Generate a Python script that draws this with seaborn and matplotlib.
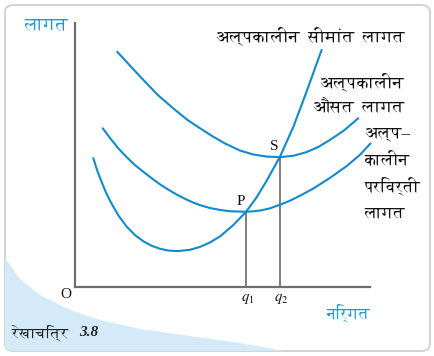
import matplotlib
matplotlib.use("Agg")
import matplotlib.pyplot as plt
import seaborn as sns
import numpy as np
import pandas as pd
from matplotlib import font_manager as fm
from matplotlib.ft2font import FT2Font
from matplotlib.patches import FancyBboxPatch, Polygon

# ---------------- data ----------------
mc_q = [0.62, 0.76, 0.91, 1.05, 1.19, 1.47, 1.75, 2.03, 2.32, 2.60, 2.88, 3.16, 3.49,
        3.90, 4.24, 4.58, 4.92, 5.36, 5.80, 6.14, 6.50, 6.95, 7.40, 7.85, 8.36]
mc_c = [4.88, 4.39, 3.96, 3.58, 3.26, 2.71, 2.29, 1.97, 1.73, 1.56, 1.45, 1.38, 1.36,
        1.41, 1.52, 1.69, 1.92, 2.34, 2.85, 3.37, 4.03, 4.94, 6.06, 7.40, 8.98]

avc_q = [0.94, 1.19, 1.47, 1.75, 2.03, 2.32, 2.60, 2.88, 3.16, 3.45, 3.73, 3.98, 4.24,
         4.58, 4.92, 5.25, 5.53, 5.80, 6.07, 6.34, 6.61, 6.98, 7.29, 7.63, 8.08, 8.64,
         9.21, 9.66, 10.02]
avc_c = [6.01, 5.64, 5.25, 4.92, 4.62, 4.36, 4.12, 3.89, 3.69, 3.50, 3.34, 3.21, 3.10,
         2.99, 2.92, 2.87, 2.86, 2.85, 2.87, 2.91, 2.98, 3.13, 3.27, 3.46, 3.73, 4.13,
         4.58, 5.01, 5.44]

ac_q = [1.43, 1.86, 2.26, 2.81, 3.39, 3.81, 4.24, 4.66, 5.08, 5.59, 6.04, 6.50, 6.95,
        7.40, 7.85, 8.24, 8.64, 9.12, 9.60]
ac_c = [8.91, 8.39, 7.91, 7.27, 6.71, 6.33, 6.01, 5.71, 5.44, 5.17, 5.02, 4.94, 4.92,
        4.97, 5.11, 5.30, 5.57, 5.93, 6.39]

q_points = [5.80, 6.95]          # q1, q2
q_costs = [2.85, 4.93]           # P, S
point_labels = ["P", "S"]
q_labels = [r"$q_1$", r"$q_2$"]

y_title = "लागत"
x_title = "निर्गत"
mc_label = "अल्पकालीन  सीमांत  लागत"
ac_label = ["अल्पकालीन", "औसत  लागत"]
avc_label = ["अल्प–", "कालीन", "परिवर्ती", "लागत"]
fig_caption_word = "रेखाचित्र"
fig_caption_num = "3.8"

# ---------------- fonts ----------------
sns.set_style("white")
cands = []
needed = [ord(c) for c in "लागतनिर्अपकीसमंऔरवखच"]
for fe in fm.fontManager.ttflist:
    try:
        cmap = FT2Font(fe.fname).get_charmap()
    except Exception:
        continue
    if all(n in cmap for n in needed):
        cands.append(fe.name)
cands = sorted(set(cands), key=lambda n: (0 if "Serif" in n else 1, n))
deva = cands[0] if cands else None
fams = ["Liberation Serif"] + ([deva] if deva else []) + ["DejaVu Sans"]
plt.rcParams["font.family"] = fams
plt.rcParams["mathtext.fontset"] = "stix"

BLUE_LINE = "#0f8ad0"
BLUE_TEXT = "#1e9bd9"
AXIS_GRAY = "#6e6e6e"

W, H = 435, 356
fig = plt.figure(figsize=(W / 100, H / 100), dpi=100)
fig.patch.set_facecolor("white")

def P(x, y):
    return (x / W, 1 - y / H)

# card and blue decoration
card = FancyBboxPatch(P(5, 351), 425 / W, 346 / H,
                      boxstyle="round,pad=0,rounding_size=0.02",
                      transform=fig.transFigure, facecolor="white",
                      edgecolor="#d2d2d2", linewidth=1.4, zorder=-2)
fig.patches.append(card)
blue_pts = [P(0, 248), P(5, 258), P(20, 279), P(40, 295), P(70, 310), P(100, 320),
            P(140, 329), P(190, 336), P(240, 343), P(290, 352), P(0, 360)]
blue = Polygon(blue_pts, closed=True, transform=fig.transFigure,
               facecolor="#d5eaf8", edgecolor="none", zorder=-1)
fig.patches.append(blue)
blue.set_clip_path(card)

# main axes: origin at pixel (75, 287), x to 370, y to 23
ax = fig.add_axes([75 / W, (H - 287) / H, 295 / W, 264 / H])
ax.set_zorder(1)
ax.set_facecolor("none")
ax.set_xlim(0, 10)
ax.set_ylim(0, 10)
for s in ["top", "right"]:
    ax.spines[s].set_visible(False)
for s in ["left", "bottom"]:
    ax.spines[s].set_color(AXIS_GRAY)
    ax.spines[s].set_linewidth(1.6)
ax.set_xticks([])
ax.set_yticks([])

for qq, cc in [(mc_q, mc_c), (avc_q, avc_c), (ac_q, ac_c)]:
    df = pd.DataFrame({"q": qq, "c": cc})
    sns.lineplot(data=df, x="q", y="c", sort=False, estimator=None, ax=ax,
                 color=BLUE_LINE, linewidth=1.5, clip_on=False, zorder=3)
for ln in ax.lines:
    ln.set_solid_joinstyle("round")
ax.set_xlabel("")
ax.set_ylabel("")

ax.vlines(q_points, 0, q_costs, color="#747474", linewidth=1.3, zorder=2)

for q, c, lab in zip(q_points, q_costs, point_labels):
    ax.annotate(lab, (q, c), xytext=(-3.8, 7.5), textcoords="offset points",
                ha="center", va="center", fontsize=11, color="#111111")
for q, lab in zip(q_points, q_labels):
    ax.annotate(lab, (q, 0), xytext=(1, -8.5), textcoords="offset points",
                ha="center", va="center", fontsize=10.5, color="#111111")

# texts
fig.text(*P(25, 25), y_title, ha="left", va="center", fontsize=13, color=BLUE_TEXT, zorder=5)
fig.text(*P(371, 313), x_title, ha="right", va="center", fontsize=11.5, color=BLUE_TEXT, zorder=5)
fig.text(*P(66, 294), "O", ha="center", va="center", fontsize=11, color="#111111", zorder=5)
fig.text(*P(405, 36), mc_label, ha="right", va="center", fontsize=12.3, color="#111111", zorder=5)
for i, t in enumerate(ac_label):
    fig.text(*P(404, 82 + 26 * i), t, ha="right", va="center", fontsize=12.3,
             color="#111111", zorder=5)
for i, t in enumerate(avc_label):
    fig.text(*P(365, 134 + 26.3 * i), t, ha="left", va="center", fontsize=12,
             color="#111111", zorder=5)
fig.text(*P(12, 333), fig_caption_word, ha="left", va="center", fontsize=11,
         color="#222222", zorder=5)
fig.text(*P(98, 333), fig_caption_num, ha="right", va="center", fontsize=11,
         fontweight="bold", style="italic", color="#222222", zorder=5)

fig.savefig("out.png", dpi=100, facecolor="white")
